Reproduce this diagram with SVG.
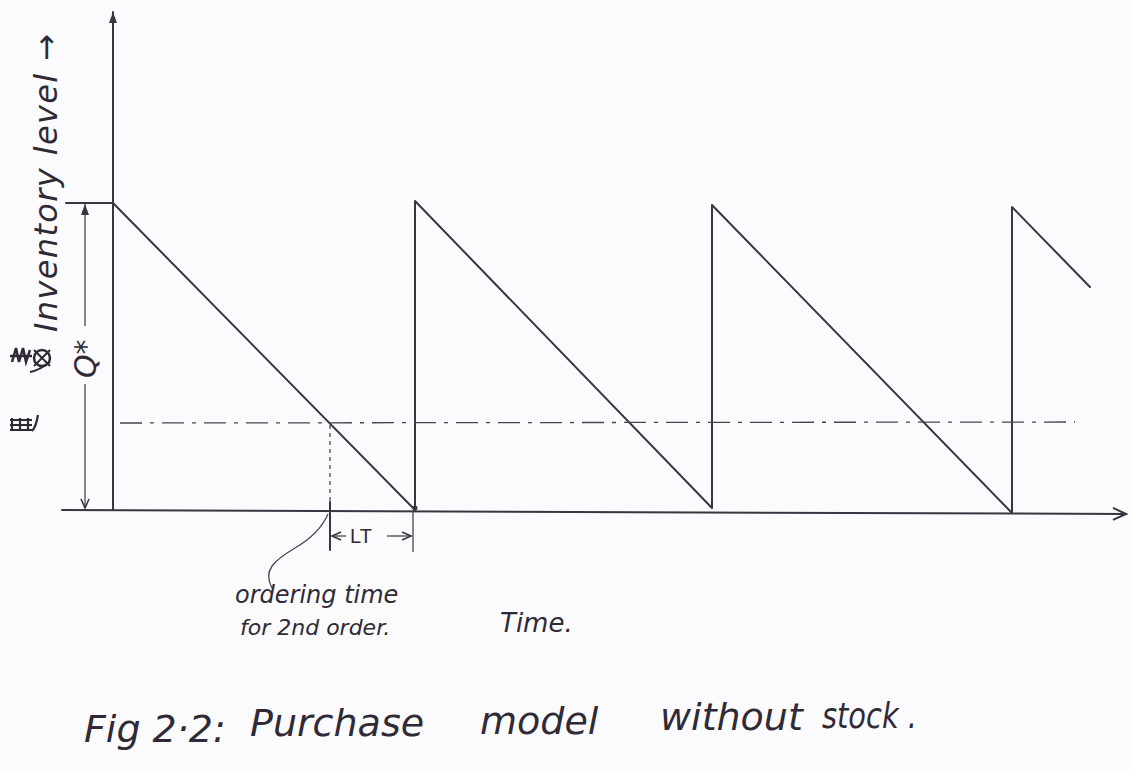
<svg xmlns="http://www.w3.org/2000/svg" width="1132" height="770" viewBox="0 0 1132 770">
<defs>
<style>
.pen{stroke:#3b3542;stroke-width:2;fill:none;stroke-linecap:round;stroke-linejoin:round}
.thin{stroke:#4a4450;stroke-width:1.3;fill:none}
.hand{font-family:"DejaVu Sans","Liberation Sans",sans-serif;font-style:italic;fill:#2f2a36}
</style>
<marker id="open" markerWidth="16" markerHeight="14" refX="14" refY="7" orient="auto" markerUnits="userSpaceOnUse">
<path d="M1,1 L14,7 L1,13" fill="none" stroke="#3b3542" stroke-width="2"/>
</marker>
<marker id="fill" markerWidth="12" markerHeight="12" refX="11" refY="6" orient="auto" markerUnits="userSpaceOnUse">
<path d="M0,2 L11,6 L0,10 Z" fill="#3b3542"/>
</marker>
<marker id="small" markerWidth="12" markerHeight="10" refX="10" refY="5" orient="auto" markerUnits="userSpaceOnUse">
<path d="M1,1 L10,5 L1,9" fill="none" stroke="#3b3542" stroke-width="1.6"/>
</marker>
</defs>
<rect width="1132" height="770" fill="#fbfafc"/>
<g id="connectors">
<line class="pen" x1="113" y1="510" x2="113" y2="12" marker-end="url(#fill)"/>
<line class="pen" x1="62" y1="510" x2="1126" y2="514" marker-end="url(#open)"/>
<line class="pen" x1="66" y1="203" x2="113" y2="203"/>
<polyline class="pen" points="113,203 415,510 415,201 712,508 712,205 1012,513 1012,207 1090,287"/>
<line class="thin" x1="120" y1="423" x2="1075" y2="422" stroke-dasharray="22,8,4,8"/>
<line class="thin" x1="85" y1="326" x2="85" y2="204" marker-end="url(#fill)"/>
<line class="thin" x1="85" y1="384" x2="85" y2="508" marker-end="url(#small)"/>
<line class="thin" x1="330" y1="425" x2="330" y2="502" stroke-dasharray="4,4"/>
<line class="pen" x1="330" y1="502" x2="330" y2="550"/>
<line class="thin" x1="413" y1="510" x2="413" y2="552"/>
<circle cx="415" cy="508" r="2.5" fill="#3b3542"/>
<line class="thin" x1="346" y1="536" x2="332" y2="536" marker-end="url(#small)"/>
<line class="thin" x1="387" y1="536" x2="411" y2="536" marker-end="url(#small)"/>
<path class="thin" d="M272,588 C262,570 275,560 295,548 C312,538 322,528 328,514"/>
</g>
<g id="y-label">
<text class="hand" font-size="32" transform="translate(57,332) rotate(-90)" textLength="298" lengthAdjust="spacing">Inventory level →</text>
</g>
<g id="q-label">
<text class="hand" font-size="30" transform="translate(96,378) rotate(-90)">Q*</text>
</g>
<g id="scribbles">
<path d="M12,362 l4,-14 l3,14 l4,-14 l3,14 l4,-12 M10,356 h22" stroke="#2f2a36" stroke-width="2.5" fill="none"/>
<ellipse cx="42" cy="358" rx="8" ry="8" fill="none" stroke="#2f2a36" stroke-width="2.5"/>
<path d="M34,350 l16,16 M50,350 l-16,16 M30,372 q10,-2 20,-10" stroke="#2f2a36" stroke-width="2" fill="none"/>
<path d="M10,420 h22 M10,425 h22 M10,430 h22 M12,418 v13 M20,418 v13 M28,418 v13 M32,431 q4,-4 6,-16" stroke="#2f2a36" stroke-width="2.2" fill="none"/>
</g>
<g id="lt-label">
<text font-size="20" x="350" y="543" fill="#2f2a36" font-family="Liberation Sans, sans-serif">LT</text>
</g>
<g id="ordering-label">
<text class="hand" font-size="24" x="235" y="603">ordering time</text>
<text class="hand" font-size="22" x="240" y="635">for 2nd order.</text>
</g>
<g id="time-label">
<text class="hand" font-size="26" x="500" y="632">Time.</text>
</g>
<g id="caption">
<text class="hand" font-size="38" x="84" y="742">Fig 2·2:</text>
<text class="hand" font-size="38" x="250" y="736">Purchase</text>
<text class="hand" font-size="38" x="480" y="734">model</text>
<text class="hand" font-size="38" x="660" y="730">without</text>
<text class="hand" font-size="36" x="822" y="728" textLength="95" lengthAdjust="spacingAndGlyphs">stock .</text>
</g>
</svg>
